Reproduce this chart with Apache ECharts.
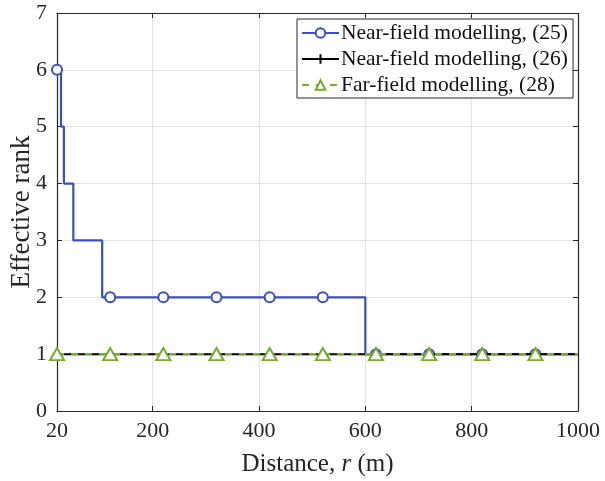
<!DOCTYPE html>
<html><head><meta charset="utf-8">
<script src="https://cdn.jsdelivr.net/npm/echarts@6/dist/echarts.min.js"></script>
<style>html,body{margin:0;padding:0;background:#fff}#c{width:605px;height:481px}</style>
</head><body><div id="c"></div>
<script>
// Near-field (25): step breakpoints (x, value)
const nf25X = [20, 27.5, 33, 50.7, 105, 120, 220, 320, 420, 520, 600, 620, 720, 820, 920, 1000];
const nf25Y = [6, 5, 4, 3, 2, 2, 2, 2, 2, 2, 1, 1, 1, 1, 1, 1];
// marker positions
const markerX = [20, 120, 220, 320, 420, 520, 620, 720, 820, 920];
// Near-field (26) and far-field (28)
const nf26X = [20, 120, 220, 320, 420, 520, 620, 720, 820, 920, 1000];
const nf26Y = [1, 1, 1, 1, 1, 1, 1, 1, 1, 1, 1];
const ff28X = [20, 120, 220, 320, 420, 520, 620, 720, 820, 920, 1000];
const ff28Y = [1, 1, 1, 1, 1, 1, 1, 1, 1, 1, 1];
const xTicks = [20, 200, 400, 600, 800, 1000];
const xGrid = [200, 400, 600, 800];
const names = ['Near-field modelling, (25)', 'Near-field modelling, (26)', 'Far-field modelling, (28)'];

function build(xs, ys) {
  return xs.map((x, i) => markerX.includes(x) ? {value: [x, ys[i]]} : {value: [x, ys[i]], symbol: 'none'});
}
const FONT = '"Liberation Serif", "Times New Roman", serif';
const TXT = '#262626';
const chart = echarts.init(document.getElementById('c'), null, {renderer: 'canvas'});
const plusPath = 'path://M0,5L10,5M5,0L5,10';
chart.setOption({
  animation: false,
  backgroundColor: '#fff',
  textStyle: {fontFamily: FONT},
  grid: {left: 57, right: 27, top: 13, bottom: 70, containLabel: false, outerBoundsMode: 'none'},
  legend: {
    orient: 'vertical', left: 297, top: 19,
    data: names,
    backgroundColor: '#fff', borderColor: TXT, borderWidth: 1, borderRadius: 0,
    padding: [3, 5, 2, 4], itemGap: 4, itemWidth: 37, itemHeight: 12,
    textStyle: {fontFamily: FONT, fontSize: 21.5, color: '#111', padding: [0, 0, 0, -3]}
  },
  xAxis: [{
    type: 'value', min: 20, max: 1000,
    name: '{n|Distance, }{i|r}{n| (m)}', nameLocation: 'middle', nameGap: 41, nameMoveOverlap: false,
    nameTextStyle: {rich: {n: {fontFamily: FONT, fontSize: 25, color: TXT}, i: {fontFamily: FONT, fontSize: 25, fontStyle: 'italic', color: TXT}}},
    axisLine: {lineStyle: {color: TXT, width: 1.2}},
    axisTick: {inside: true, length: 5, customValues: xTicks, lineStyle: {color: TXT}},
    axisLabel: {customValues: xTicks, formatter: v => String(v), fontFamily: FONT, fontSize: 22, color: TXT, margin: 9},
    splitLine: {show: false}
  }, {
    type: 'value', position: 'top', min: 20, max: 1000,
    axisLine: {show: true, onZero: false, lineStyle: {color: TXT, width: 1.2}},
    axisTick: {inside: true, length: 5, customValues: xTicks, lineStyle: {color: TXT}},
    axisLabel: {show: false}, splitLine: {show: false}
  }],
  yAxis: [{
    type: 'value', min: 0, max: 7, interval: 1,
    name: 'Effective rank', nameLocation: 'middle', nameGap: 22, nameMoveOverlap: false,
    nameTextStyle: {fontFamily: FONT, fontSize: 27, color: TXT},
    axisLine: {show: true, lineStyle: {color: TXT, width: 1.2}},
    axisTick: {show: true, inside: true, length: 5, lineStyle: {color: TXT}},
    axisLabel: {fontFamily: FONT, fontSize: 22, color: TXT, margin: 10},
    splitLine: {show: true, lineStyle: {color: '#e3e3e3', width: 1.2}}
  }, {
    type: 'value', position: 'right', min: 0, max: 7, interval: 1,
    axisLine: {show: true, onZero: false, lineStyle: {color: TXT, width: 1.2}},
    axisTick: {show: true, inside: true, length: 5, lineStyle: {color: TXT}},
    axisLabel: {show: false}, splitLine: {show: false}
  }],
  series: [{
    name: names[1], type: 'line', z: 3,
    data: build(nf26X, nf26Y),
    symbol: plusPath, symbolSize: 7, showAllSymbol: true,
    itemStyle: {color: '#000', borderColor: '#000', borderWidth: 1.5},
    lineStyle: {color: '#000', width: 2},
    markLine: {
      silent: true, symbol: 'none', z: 0, label: {show: false},
      lineStyle: {color: '#e3e3e3', width: 1.2, type: 'solid'},
      data: xGrid.map(v => ({xAxis: v}))
    }
  }, {
    name: names[2], type: 'line', z: 4,
    data: build(ff28X, ff28Y),
    symbol: 'emptyTriangle', symbolSize: [14, 12], showAllSymbol: true,
    itemStyle: {color: '#77AC30', borderColor: '#77AC30', borderWidth: 3},
    lineStyle: {color: '#77AC30', width: 2.2, type: [7, 7]}
  }, {
    name: names[0], type: 'line', z: 2, step: 'end',
    data: build(nf25X, nf25Y),
    symbol: 'emptyCircle', symbolSize: 10, showAllSymbol: true,
    itemStyle: {color: '#3C4FBE', borderColor: '#3C4FBE', borderWidth: 2},
    lineStyle: {color: '#3C4FBE', width: 2.2}
  }]
});
</script></body></html>
